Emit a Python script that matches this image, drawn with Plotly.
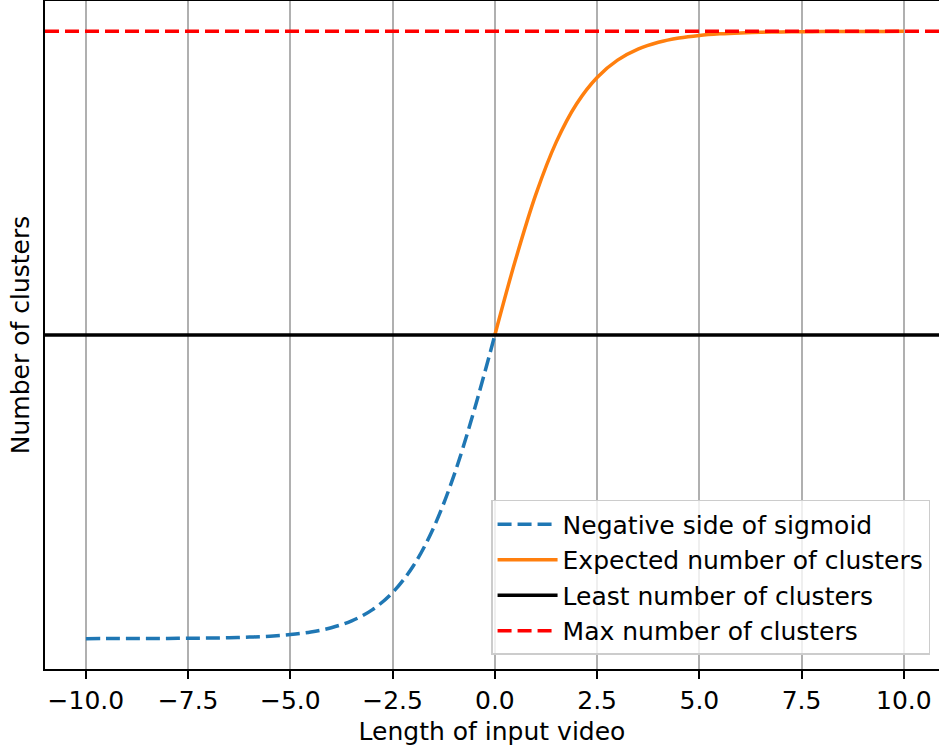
import plotly.graph_objects as go

# Values
neg_x = [-10.0, -9.5, -9.0, -8.5, -8.0, -7.5, -7.0, -6.5, -6.0, -5.5, -5.0,
         -4.5, -4.0, -3.5, -3.0, -2.5, -2.0, -1.5, -1.0, -0.5, 0.0]
neg_y = [0.0000, 0.0001, 0.0001, 0.0002, 0.0003, 0.0006, 0.0009, 0.0015, 0.0025,
         0.0041, 0.0067, 0.0110, 0.0180, 0.0293, 0.0474, 0.0759, 0.1192, 0.1824,
         0.2689, 0.3775, 0.5000]
pos_x = [0.0, 0.5, 1.0, 1.5, 2.0, 2.5, 3.0, 3.5, 4.0, 4.5, 5.0,
         5.5, 6.0, 6.5, 7.0, 7.5, 8.0, 8.5, 9.0, 9.5, 10.0]
pos_y = [0.5000, 0.6225, 0.7311, 0.8176, 0.8808, 0.9241, 0.9526, 0.9707, 0.9820,
         0.9890, 0.9933, 0.9959, 0.9975, 0.9985, 0.9991, 0.9994, 0.9997, 0.9998,
         0.9999, 0.9999, 1.0000]
least_clusters = 0.5
max_clusters = 1.0
x_span = [-11.0, 10.86]
y_span = [-0.05, 1.05]
tick_vals = [-10.0, -7.5, -5.0, -2.5, 0.0, 2.5, 5.0, 7.5, 10.0]
tick_text = ["\u221210.0", "\u22127.5", "\u22125.0", "\u22122.5", "0.0", "2.5", "5.0", "7.5", "10.0"]
names = ["Negative side of sigmoid", "Expected number of clusters",
         "Least number of clusters", "Max number of clusters"]

FONT = "DejaVu Sans"
FS = 25
DASH = "14px,6px"

fig = go.Figure()
fig.add_trace(go.Scatter(x=neg_x, y=neg_y, mode="lines", name=names[0],
                         line=dict(color="#1f77b4", width=3.5, dash=DASH, shape="spline")))
fig.add_trace(go.Scatter(x=pos_x, y=pos_y, mode="lines", name=names[1],
                         line=dict(color="#ff7f0e", width=3.5, shape="spline")))
fig.add_trace(go.Scatter(x=x_span, y=[least_clusters, least_clusters], mode="lines", name=names[2],
                         line=dict(color="black", width=3.5)))
fig.add_trace(go.Scatter(x=x_span, y=[max_clusters, max_clusters], mode="lines", name=names[3],
                         line=dict(color="red", width=3.5, dash=DASH)))

fig.update_layout(
    width=939, height=751,
    margin=dict(l=45, r=0, t=1, b=82),
    plot_bgcolor="white", paper_bgcolor="white",
    font=dict(family=FONT, size=FS, color="black"),
    legend=dict(x=0.99, y=0.021, xanchor="right", yanchor="bottom",
                bgcolor="rgba(255,255,255,0.8)", bordercolor="#cccccc", borderwidth=1.5,
                itemwidth=60,
                font=dict(family=FONT, size=FS, color="black"), tracegroupgap=0),
)
fig.update_xaxes(
    range=x_span, tickvals=tick_vals, ticktext=tick_text,
    showgrid=True, gridcolor="#b0b0b0", gridwidth=1.9,
    showline=True, linecolor="black", linewidth=1.9, mirror=True,
    ticks="outside", ticklen=8, tickwidth=1.9, tickcolor="black",
    zeroline=False,
    tickfont=dict(family=FONT, size=FS, color="black"),
    title=dict(text="Length of input video", font=dict(family=FONT, size=FS, color="black"), standoff=9),
)
fig.update_yaxes(
    range=y_span, showticklabels=False, ticks="", showgrid=False,
    showline=True, linecolor="black", linewidth=1.9, zeroline=False,
    title=dict(text="Number of clusters", font=dict(family=FONT, size=FS, color="black"), standoff=6),
)

fig.write_html("out.html")
